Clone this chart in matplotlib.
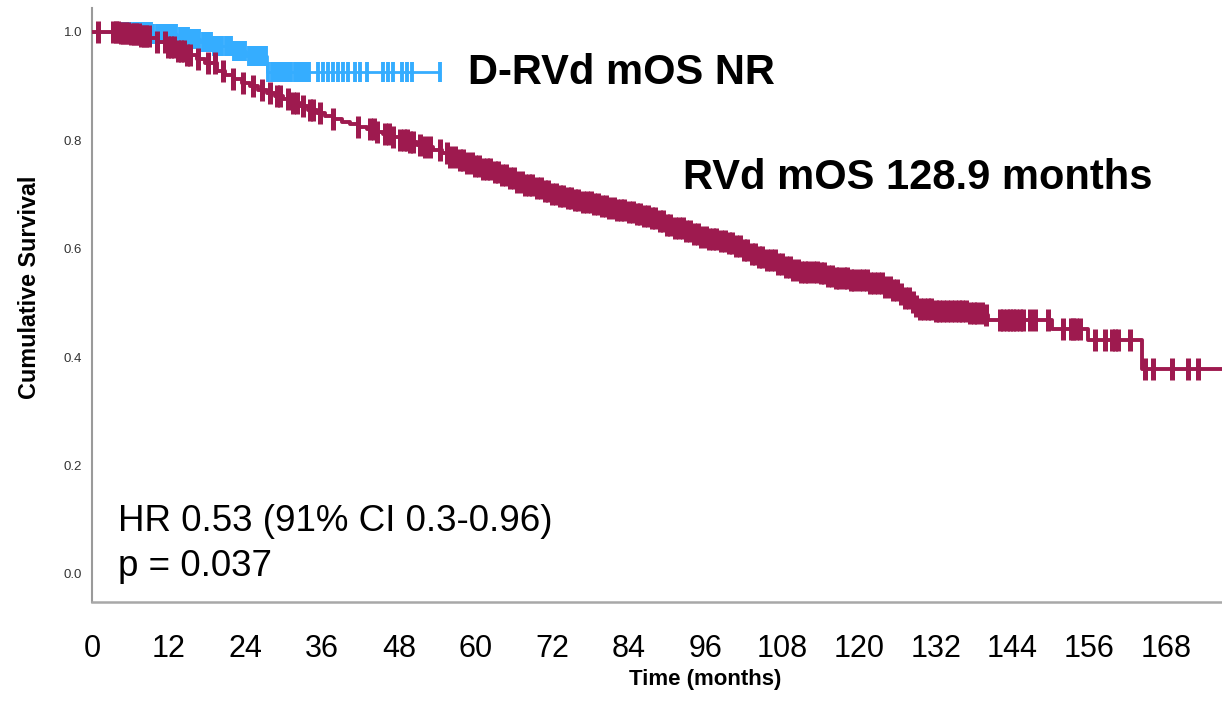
import matplotlib
matplotlib.use("Agg")
import matplotlib.pyplot as plt
import numpy as np

plt.rcParams['font.family'] = ['Liberation Sans', 'DejaVu Sans']

# Kaplan-Meier steps: (month, cumulative survival after the event)
rvd_time = [0.0, 3.3, 4.4, 5.9, 7.5, 9.1, 10.2, 11.7, 13.3, 14.9, 16.4, 17.7, 19.6, 20.8,
            22.1, 23.5, 24.7, 26.0, 27.4, 28.6, 29.9, 31.3, 32.6, 33.8, 35.2, 36.5, 37.7,
            39.1, 40.4, 41.6, 43.0, 44.3, 45.5, 46.9, 48.2, 49.5, 50.9, 52.1, 53.4, 54.8,
            56.0, 57.3, 58.7, 59.9, 61.2, 62.6, 63.8, 65.1, 66.5, 67.8, 69.0, 70.4, 71.7,
            72.9, 74.3, 75.6, 76.8, 78.2, 79.5, 80.8, 82.2, 83.4, 84.7, 86.1, 87.3, 88.6,
            90.0, 91.2, 92.5, 93.9, 95.1, 96.4, 97.8, 99.1, 100.3, 101.7, 103.0, 104.2,
            105.6, 106.9, 108.1, 109.5, 110.8, 113.5, 114.7, 116.0, 118.6, 121.3, 123.8,
            125.2, 126.4, 127.2, 128.0, 128.9, 129.3, 131.6, 136.9, 139.4, 140.2, 150.2,
            155.9, 164.3]
rvd_surv = [1.000, 0.999, 0.998, 0.996, 0.993, 0.989, 0.982, 0.972, 0.965, 0.958, 0.950,
            0.943, 0.928, 0.921, 0.913, 0.906, 0.900, 0.893, 0.887, 0.882, 0.876, 0.869,
            0.863, 0.856, 0.851, 0.845, 0.839, 0.834, 0.830, 0.825, 0.821, 0.815, 0.812,
            0.806, 0.801, 0.797, 0.792, 0.788, 0.782, 0.777, 0.769, 0.764, 0.758, 0.753,
            0.747, 0.742, 0.736, 0.731, 0.723, 0.718, 0.712, 0.707, 0.701, 0.697, 0.694,
            0.690, 0.686, 0.683, 0.679, 0.675, 0.672, 0.668, 0.664, 0.661, 0.657, 0.651,
            0.644, 0.638, 0.633, 0.627, 0.622, 0.618, 0.614, 0.611, 0.605, 0.598, 0.590,
            0.585, 0.579, 0.572, 0.566, 0.561, 0.557, 0.555, 0.550, 0.546, 0.542, 0.537,
            0.529, 0.524, 0.517, 0.509, 0.502, 0.494, 0.489, 0.485, 0.482, 0.478, 0.469,
            0.452, 0.432, 0.378]
rvd_last = 177.0

rvd_censor = [0.9, 3.3, 3.7, 4.1, 4.5, 4.9, 5.3, 5.7, 6.1, 6.5, 6.9, 7.3, 7.7, 8.1, 8.5, 8.9,
              10.2, 11.4, 11.9, 12.4, 12.9, 13.4, 13.9, 14.4, 14.9, 15.3, 16.6, 18.2, 19.2,
              20.5, 22.1, 23.6, 25.2, 26.6, 27.9, 29.0, 29.4, 30.7, 31.5, 32.1, 33.0, 34.1,
              34.6, 35.7, 37.7, 41.6, 43.5, 44.1, 44.6, 45.9, 46.5, 47.1, 48.2, 48.8, 49.3,
              49.8, 50.2, 51.3, 52.1, 52.9, 54.5, 55.6, 56.0, 56.8,
              57.6, 58.1, 58.7, 59.4, 60.0, 60.5, 61.2, 61.8, 62.3, 63.0, 63.6, 64.1, 64.8,
              65.4, 66.0, 66.5, 67.2, 67.8, 68.4, 68.9, 69.6, 70.2, 70.8, 71.3, 72.0, 72.6,
              73.2, 73.7, 74.4, 75.0, 75.6, 76.1, 76.8, 77.4, 78.0, 78.5, 79.2, 79.8, 80.4,
              80.9, 81.6, 82.2, 82.8, 83.3, 84.0, 84.6, 85.2, 85.7, 86.4, 87.0, 87.6, 88.1,
              88.8, 89.4, 90.0, 90.5, 91.2, 91.8, 92.4, 92.9, 93.6, 94.2, 94.8, 95.3, 96.0,
              96.6, 97.2, 97.7, 98.4, 99.0, 99.6, 100.1, 100.8, 101.4, 102.0, 102.5, 103.2,
              103.8, 104.4, 104.9, 105.6, 106.2, 106.8, 107.3, 108.0, 108.6, 109.2, 109.7,
              110.4, 111.0, 111.6, 112.1, 112.8, 113.4, 114.0, 114.5, 115.2, 115.8, 116.4,
              116.9, 117.6, 118.2, 118.8, 119.3, 120.0, 120.6, 121.2, 121.7, 122.4, 123.0,
              123.6, 124.1, 124.8, 125.4, 126.0, 126.5, 127.2, 127.8, 128.4, 128.9, 129.6,
              130.2, 130.8, 131.3, 132.0, 132.6, 133.2, 133.7, 134.4, 135.0, 135.6, 136.1,
              136.8, 137.4, 138.0, 138.5, 139.2, 139.8,
              142.1, 142.6, 143.1, 143.6, 144.1, 144.6, 145.2, 145.7, 146.8, 147.6, 149.5,
              152.0, 153.1, 153.5, 154.0, 154.6, 157.0, 158.5, 159.6, 160.1, 160.6, 162.4,
              164.8, 166.0, 169.0, 171.5, 173.1]

drvd_time = [0.0, 9.5, 13.3, 15.3, 16.9, 18.8, 21.9, 24.1, 27.4]
drvd_surv = [1.000, 0.996, 0.991, 0.987, 0.982, 0.974, 0.965, 0.956, 0.926]
drvd_last = 54.5

drvd_censor = [3.3, 3.8, 4.2, 4.7, 5.1, 5.6, 6.0, 6.5, 6.9, 7.4, 7.8, 8.3, 8.7, 9.2, 9.6,
               10.1, 10.5, 11.0, 11.4, 11.9, 12.3, 12.8, 13.2, 13.7, 14.1, 14.6, 15.0, 15.5,
               15.9, 16.4, 16.8, 17.3, 17.7, 18.2, 18.6, 19.1, 19.5, 20.0, 20.4, 20.9, 21.3,
               21.8, 22.2, 22.7, 23.1, 23.6, 24.0, 24.5, 24.9, 25.4, 25.8, 26.3, 26.7, 27.2,
               27.6, 28.1, 28.5, 29.0, 29.4, 29.9, 30.3, 30.8, 31.2, 31.7, 32.1, 32.6, 33.0,
               33.5, 34.0, 35.4, 36.2, 36.9, 37.7, 38.5, 39.3, 40.1, 41.2, 41.9, 43.0, 45.5,
               46.3, 47.1, 48.5, 49.3, 50.1, 54.5]

xticks = [0, 12, 24, 36, 48, 60, 72, 84, 96, 108, 120, 132, 144, 156, 168]
yticks = [0.0, 0.2, 0.4, 0.6, 0.8, 1.0]

RVD_COLOR = '#9E1A4F'
DRVD_COLOR = '#35ADFF'


def km_curve(ax, t, s, last, censor, color, lw, ms, mew, z):
    t = np.append(t, last)
    s = np.append(s, s[-1])
    ax.step(t, s, where='post', color=color, lw=lw, zorder=z, solid_capstyle='butt')
    idx = np.searchsorted(t, censor, side='right') - 1
    ax.plot(censor, s[idx], ls='none', marker='|', ms=ms, mew=mew, color=color, zorder=z)


fig = plt.figure(figsize=(12.22, 7.02), dpi=100)
ax = fig.add_axes([92 / 1222, 1 - 602 / 702, 1130 / 1222, 594 / 702])

km_curve(ax, drvd_time, drvd_surv, drvd_last, drvd_censor, DRVD_COLOR, 2.0, 14.5, 2.8, 2)
km_curve(ax, rvd_time, rvd_surv, rvd_last, rvd_censor, RVD_COLOR, 2.8, 16, 3.6, 3)

ax.set_xlim(0, 176.8)
ax.set_ylim(-0.052, 1.044)
ax.set_xticks(xticks)
ax.set_xticklabels([str(v) for v in xticks], fontsize=22)
ax.set_yticks(yticks)
ax.set_yticklabels(['%.1f' % v for v in yticks], fontsize=9.5, color='#333333')
ax.tick_params(axis='x', length=0, pad=23)
ax.tick_params(axis='y', length=0, pad=7)

for side in ['top', 'right']:
    ax.spines[side].set_visible(False)
ax.spines['left'].set_color('#9a9a9a')
ax.spines['left'].set_linewidth(1.5)
ax.spines['bottom'].set_color('#a8a8a8')
ax.spines['bottom'].set_linewidth(1.8)

ax.text(58.8, 0.924, 'D-RVd mOS NR', fontsize=30, fontweight='bold', va='center')
ax.text(92.5, 0.731, 'RVd mOS 128.9 months', fontsize=30, fontweight='bold', va='center')
ax.text(4.1, 0.096, 'HR 0.53 (91% CI 0.3-0.96)', fontsize=26.5, va='center')
ax.text(4.1, 0.013, 'p = 0.037', fontsize=26.5, va='center')

fig.text(30 / 1222, 1 - 287 / 702, 'Cumulative Survival', rotation=90, fontsize=16.8,
         fontweight='bold', ha='center', va='center')
fig.text(705 / 1222, 1 - 679 / 702, 'Time (months)', fontsize=16, fontweight='bold',
         ha='center', va='center')

fig.savefig('out.png', dpi=100)
